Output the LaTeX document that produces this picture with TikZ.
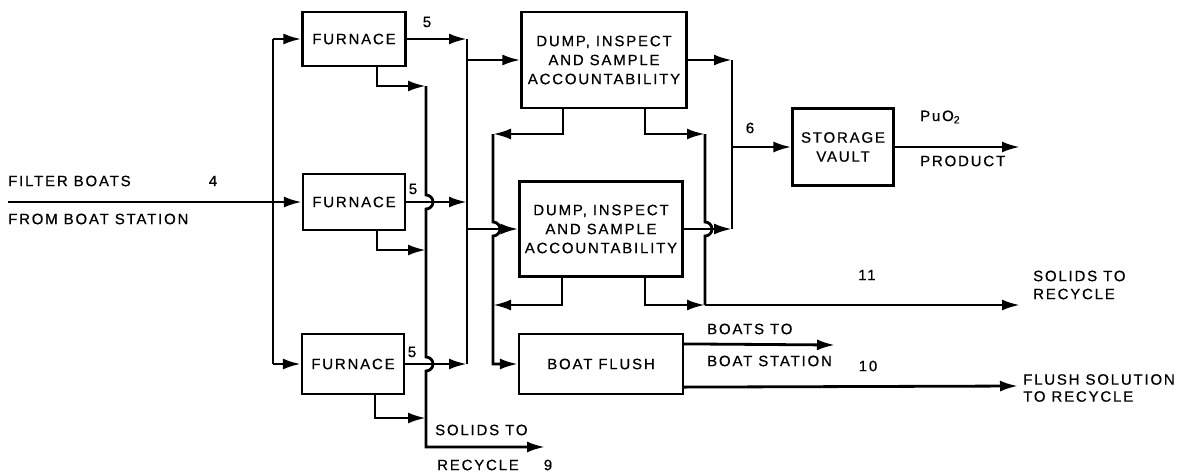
\documentclass[tikz,border=0pt]{standalone}
\usepackage{fontspec}
\setmainfont{Liberation Sans}[LetterSpace=12,FakeBold=0.6]
\usetikzlibrary{arrows.meta,calc}
\begin{document}
\begin{tikzpicture}[x=1pt,y=-1pt,
  box/.style={draw,line width=2.2pt,align=center,inner sep=0pt,font=\fontsize{15}{19}\selectfont},
  line/.style={line width=2.8pt},
  arr/.style={line width=2.8pt,-{Latex[length=18pt,width=11pt]}},
  lbl/.style={inner sep=0pt,font=\fontsize{15}{18}\selectfont}]
\useasboundingbox[fill=white] (0,0) rectangle (1195,475);
% boxes
\node[box,minimum width=103pt,minimum height=54pt] (f1) at (354,39) {FURNACE};
\node[box,minimum width=102pt,minimum height=56pt] (f2) at (354,202) {FURNACE};
\node[box,minimum width=102pt,minimum height=60pt] (f3) at (353,364) {FURNACE};
\node[box,minimum width=165pt,minimum height=96pt] (d1) at (604,60) {DUMP, INSPECT\\AND SAMPLE\\ACCOUNTABILITY};
\node[box,minimum width=163pt,minimum height=95pt] (d2) at (601,229) {DUMP, INSPECT\\AND SAMPLE\\ACCOUNTABILITY};
\node[box,minimum width=164pt,minimum height=60pt] (bf) at (601,364) {BOAT FLUSH};
\node[box,minimum width=101pt,minimum height=77pt] (sv) at (843,147) {STORAGE\\VAULT};
% free ends
\coordinate (in0) at (8,202);
\coordinate (out9) at (545,447);
\coordinate (out11) at (1020,305);
\coordinate (outP) at (1020,147);
\coordinate (outB) at (835,345);
\coordinate (out10) at (1018,386);
% bus x positions
\coordinate (bA) at (273,0);
\coordinate (bB) at (467,0);
\coordinate (bC) at (426,0);
\coordinate (bD) at (493,0);
\coordinate (bE) at (705,0);
\coordinate (bF) at (732,0);
% input bus
\draw[arr] (in0) -- (f2.west);
\draw[line] (f1.west -| bA) -- (f3.west -| bA);
\draw[arr] (f1.west -| bA) -- (f1.west);
\draw[arr] (f3.west -| bA) -- (f3.west);
% furnace outputs to bus B
\draw[arr] (f1.east) -- (f1.east -| bB);
\draw[arr] (f2.east) -- (f2.east -| bB);
\draw[arr] (f3.east) -- (f3.east -| bB);
\draw[line] (f1.east -| bB) -- (f3.east -| bB);
\draw[arr] (d1.west -| bB) -- (d1.west);
\draw[arr] (d2.west -| bB) -- (d2.west);
% solids from furnaces, bus C
\draw[arr] ($(f1.south)+(23,0)$) |- (426,86);
\draw[arr] ($(f2.south)+(23,0)$) |- (426,250);
\draw[arr] ($(f3.south)+(22,0)$) |- (426,418);
\draw[arr] (426,86) -- (426,195) arc[start angle=90,end angle=-90,radius=7pt]
  -- (426,357) arc[start angle=90,end angle=-90,radius=7pt] -- (426,447) -- (out9);
% bus D (to boat flush)
\draw[arr] ($(d1.south)+(-41,0)$) |- (493,134);
\draw[arr] ($(d2.south)+(-39,0)$) |- (493,305);
\draw[arr] (493,134) -- (493,222) arc[start angle=90,end angle=-90,radius=7pt] -- (bf.west -| bD) -- (bf.west);
% bus E (solids to recycle)
\draw[arr] ($(d1.south)+(41,0)$) |- (705,134);
\draw[arr] ($(d2.south)+(44,0)$) |- (705,305);
\draw[line] (705,134) -- (705,222) arc[start angle=90,end angle=-90,radius=7pt] -- (705,305);
\draw[arr] (705,305) -- (out11);
% bus F (to storage)
\draw[arr] (d1.east) -- (d1.east -| bF);
\draw[arr] (d2.east) -- (d2.east -| bF);
\draw[line] (d1.east -| bF) -- (d2.east -| bF);
\draw[arr] (sv.west -| bF) -- (sv.west);
\draw[arr] (sv.east) -- (outP);
% boat flush outputs
\draw[arr] ($(bf.north east)+(0,11)$) -- (outB);
\draw[arr] ($(bf.south east)+(0,-8)$) -- (out10);
% labels
\node[lbl,anchor=west] (tFB) at (8,181) {FILTER BOATS};
\node[lbl] (t4) at (213,181) {4};
\node[lbl,anchor=west] (tFS) at (8,219) {FROM BOAT STATION};
\node[lbl] (t5a) at (427,22) {5};
\node[lbl] (t5b) at (413,189) {5};
\node[lbl] (t5c) at (412,352) {5};
\node[lbl] (t6) at (750,128) {6};
\node[lbl,anchor=west] (tPu) at (920,117) {PuO\textsubscript{2}};
\node[lbl,anchor=west] (tPr) at (920,161) {PRODUCT};
\node[lbl] (t11) at (867,275) {11};
\node[lbl,anchor=west,align=left,font=\fontsize{15}{18}\selectfont] (tS11) at (1033,285) {SOLIDS TO\\RECYCLE};
\node[lbl,anchor=west] (tBT) at (707,329) {BOATS TO};
\node[lbl,anchor=west] (tBS) at (707,361) {BOAT STATION};
\node[lbl] (t10) at (868,366) {10};
\node[lbl,anchor=west,align=left,font=\fontsize{15}{17}\selectfont] (tFl) at (1023,388) {FLUSH SOLUTION\\TO RECYCLE};
\node[lbl,anchor=west] (tS9) at (435,430) {SOLIDS TO};
\node[lbl,anchor=west] (tR9) at (437,465) {RECYCLE};
\node[lbl] (t9) at (548,465) {9};
\end{tikzpicture}
\end{document}
